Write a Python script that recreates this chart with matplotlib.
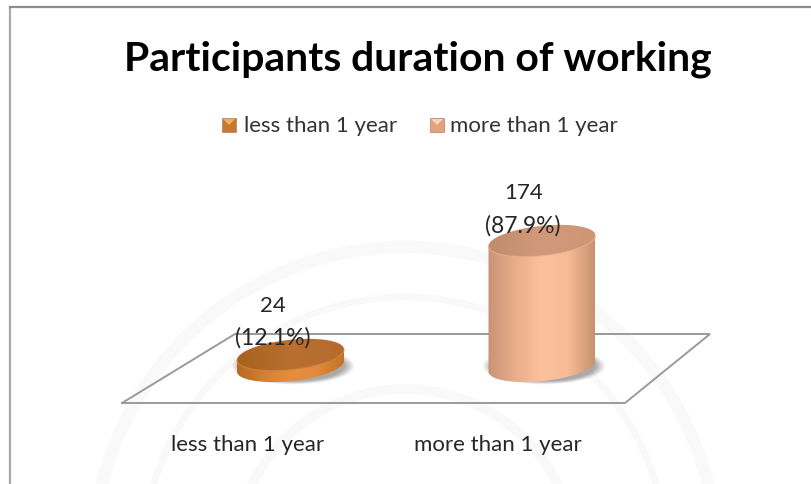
import numpy as np
import matplotlib
matplotlib.use('Agg')
import matplotlib.pyplot as plt
from matplotlib.colors import LinearSegmentedColormap
from matplotlib.patches import PathPatch, Rectangle, Arc, Polygon
from matplotlib.path import Path

categories = ['less than 1 year', 'more than 1 year']
counts = [24, 174]
percent_labels = ['(12.1%)', '(87.9%)']
title = 'Participants duration of working'

plt.rcParams['font.family'] = ['Lato', 'DejaVu Sans']
W, H = 812, 485
fig = plt.figure(figsize=(W / 100, H / 100), dpi=100, facecolor='white')

# pixel-space backdrop
bg = fig.add_axes([0, 0, 1, 1])
bg.set_xlim(0, W); bg.set_ylim(H, 0); bg.axis('off')
for r, lw in ((312, 9), (262, 5), (170, 7)):
    bg.add_patch(Arc((405, 560), 2 * r, 2 * r, theta1=180, theta2=360, color='#f9f9f9', lw=lw, zorder=0))
bg.plot([10, 10], [H, 8], color='#a8a8a8', lw=1.6, zorder=1)
bg.plot([10, W], [8, 8], color='#8c8c8c', lw=1.6, zorder=1)
bg.plot([122, 235, 710, 625, 122], [404, 335, 335, 404, 404], color='#9a9a9a', lw=1.4, zorder=1,
        solid_joinstyle='miter')

# data axes
ax = fig.add_axes([0, 0, 1, 1], facecolor='none')
PX_X, X0 = 251.5, 290.5
PX_Y, Y0 = 0.76, 374
ax.set_xlim(-X0 / PX_X, (W - X0) / PX_X)
ax.set_ylim((Y0 - H) / PX_Y, Y0 / PX_Y)
ax.axis('off')

half_w = 53.5 / PX_X
ry = 15 / PX_Y
floor = 9
tilt = 0.1 * PX_X / PX_Y  # upward lean of the ellipses, in value units per category

side_cols = [['#b5691f', '#d48035', '#e88d3e', '#e38a3c', '#c27226'],
             ['#c99476', '#e8ad8b', '#fcc19d', '#f8bb96', '#c8926f']]
top_cols = [['#a8621f', '#b86f30', '#b56b2d'], ['#c08a6b', '#d29a7a', '#cf9676']]
rim_cols = ['#d88436', '#e8ab88']
count_offset = [(-0.072, 66), (-0.075, 64)]
pct_offset = [(-0.072, 24), (-0.075, 21)]
cat_centres = [-0.17, -0.175]


def ell(cx, cy, t):
    x = half_w * np.cos(t)
    return cx + x, cy + ry * np.sin(t) + tilt * x


for i, (c, v) in enumerate(zip(categories, counts)):
    x0, x1 = i - half_w, i + half_w
    # blurred floor shadow
    yy, xx = np.mgrid[-1.5:1.5:120j, -1.25:1.25:200j]
    d = np.sqrt(xx ** 2 + yy ** 2)
    alpha = np.clip((1.16 - d) / 0.2, 0, 1) * 0.6
    rgba = np.zeros(d.shape + (4,)); rgba[..., :3] = 0.45; rgba[..., 3] = alpha
    sx = i + 2 / PX_X
    ax.imshow(rgba, extent=[sx - half_w * 1.25, sx + half_w * 1.25, floor - ry * 1.6, floor + ry * 1.6],
              aspect='auto', zorder=2, origin='lower', interpolation='bilinear')
    # side wall
    t = np.linspace(np.pi, 2 * np.pi, 80)
    bx, by = ell(i, floor, t)
    tx, ty = ell(i, v, t[::-1])
    verts = np.c_[np.r_[bx, tx], np.r_[by, ty]]
    clip = PathPatch(Path(np.vstack([verts, verts[0]])), transform=ax.transData, fc='none', ec='none')
    ax.add_patch(clip)
    cm = LinearSegmentedColormap.from_list('s', side_cols[i])
    im = ax.imshow(np.linspace(0, 1, 256)[None, :], cmap=cm,
                   extent=[x0, x1, floor - 2 * ry, v + 2 * ry], aspect='auto', zorder=3)
    im.set_clip_path(clip)
    # top face
    t2 = np.linspace(0, 2 * np.pi, 160)
    ex, ey = ell(i, v, t2)
    top = Polygon(np.c_[ex, ey], closed=True, fc='none', ec='none', transform=ax.transData)
    ax.add_patch(top)
    cm2 = LinearSegmentedColormap.from_list('t', top_cols[i])
    im2 = ax.imshow(np.linspace(0, 1, 256)[None, :], cmap=cm2,
                    extent=[x0, x1, v - 2 * ry, v + 2 * ry], aspect='auto', zorder=4)
    im2.set_clip_path(top)
    ex2, ey2 = ell(i, v, t)
    ax.plot(ex2, ey2, color=rim_cols[i], lw=1.0, alpha=0.6, zorder=5)

    # labels
    ax.text(i + count_offset[i][0], v + count_offset[i][1], str(v), ha='center', va='center',
            fontsize=16, color='#262626', zorder=6)
    ax.text(i + pct_offset[i][0], v + pct_offset[i][1], percent_labels[i], ha='center', va='center',
            fontsize=16.5, color='#262626', zorder=6)
    ax.text(i + cat_centres[i], (Y0 - 445) / PX_Y, c, ha='center', va='center',
            fontsize=16, color='#262626', zorder=6)

bg.text(418, 59, title, ha='center', va='center', fontsize=29.4, fontweight='bold', color='black')

# legend
leg_cols = ['#c9772f', '#e3a27e']
leg_light = ['#f0b060', '#f8d4bc']
lx = [222, 430]
tx_pos = [244, 450]
for i, c in enumerate(categories):
    bg.add_patch(Rectangle((lx[i], 119), 14, 14, fc=leg_cols[i], ec='#b08060', lw=0.5, zorder=3))
    bg.add_patch(Polygon([[lx[i] + 1, 120], [lx[i] + 13, 120], [lx[i] + 7, 126]], closed=True,
                         fc=leg_light[i], ec='none', zorder=4))
    bg.text(tx_pos[i], 126, c, ha='left', va='center', fontsize=16, color='#333333')

fig.savefig('out.png', dpi=100)
